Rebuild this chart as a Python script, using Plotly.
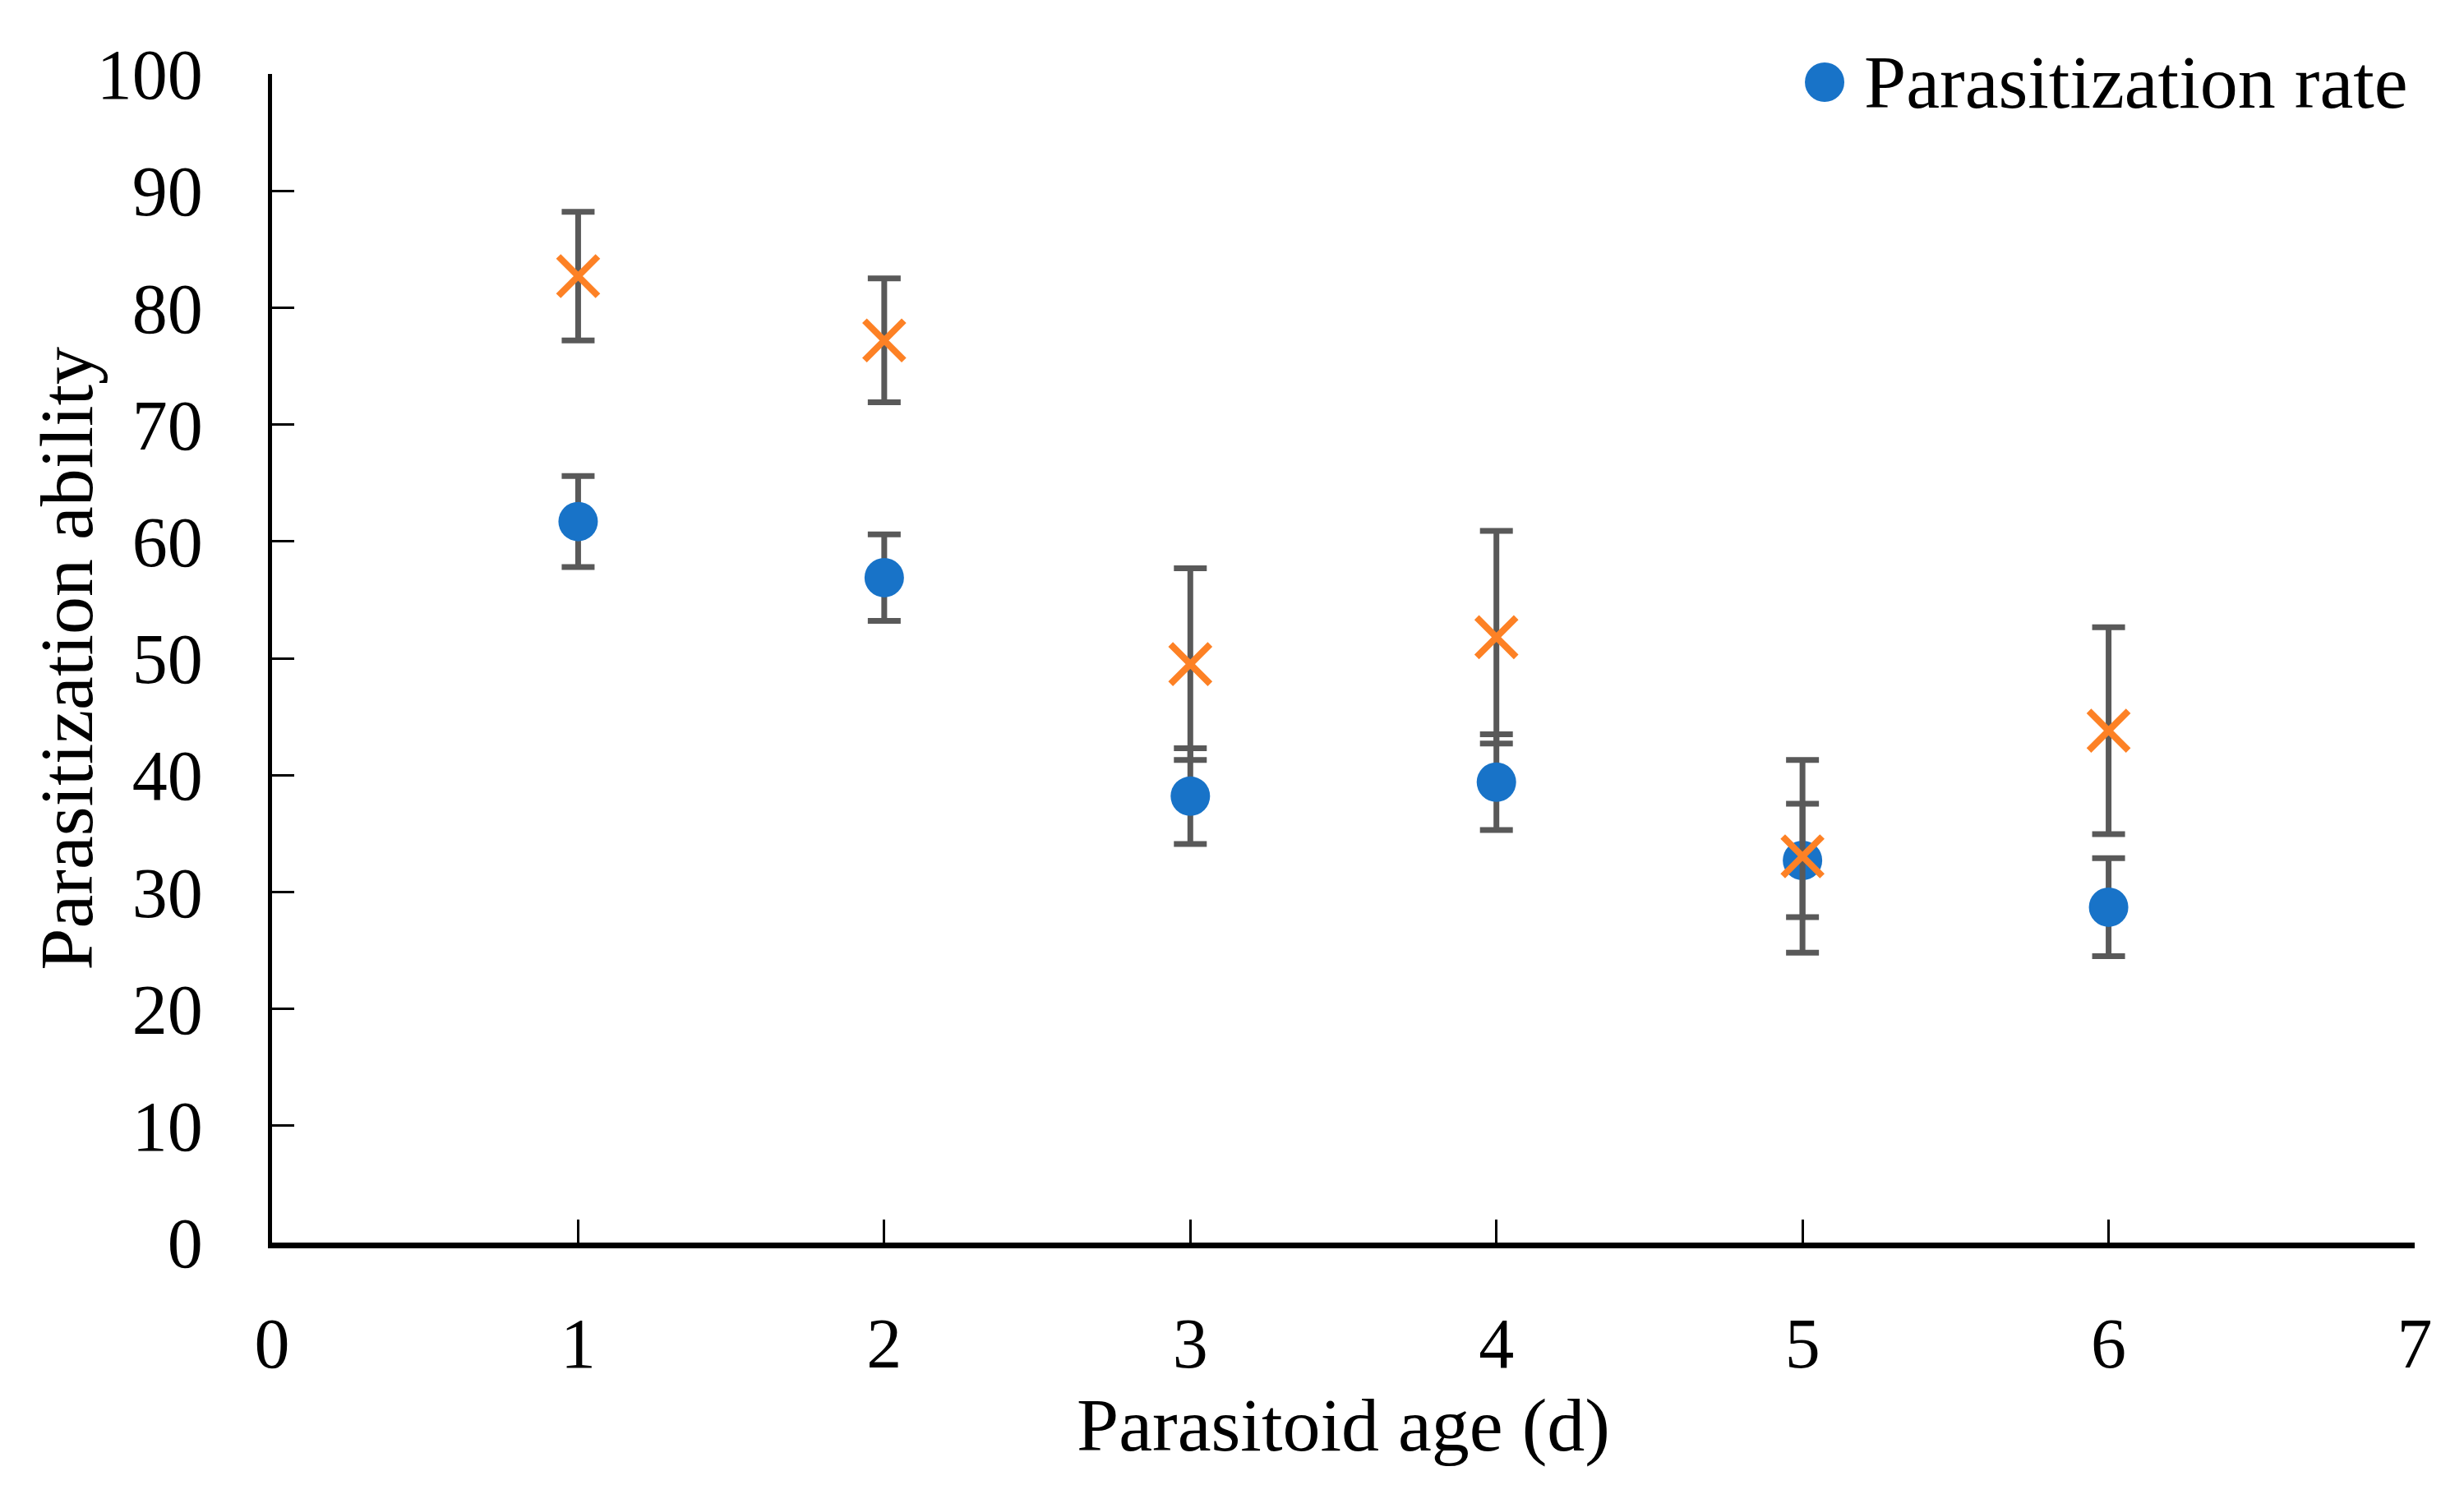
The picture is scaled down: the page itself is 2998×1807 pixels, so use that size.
import plotly.graph_objects as go

ages = [1, 2, 3, 4, 5, 6]
rate = [61.7, 56.9, 38.2, 39.4, 32.7, 28.7]
rate_err = [3.9, 3.7, 4.1, 4.1, 4.85, 4.2]
other = [82.7, 77.2, 49.5, 51.8, 33.05, 43.8]
other_err = [5.5, 5.3, 8.2, 9.1, 8.25, 8.85]

x_ticks = [0, 1, 2, 3, 4, 5, 6, 7]
y_ticks = [0, 10, 20, 30, 40, 50, 60, 70, 80, 90, 100]

legend_label = "Parasitization rate"
x_title = "Parasitoid age (d)"
y_title = "Parasitization ability"

FONT = "Liberation Serif"
ERR = "#595959"
BLUE = "#1873C8"
ORANGE = "#FD8125"

fig = go.Figure()
fig.add_trace(go.Scatter(
    x=ages, y=rate, mode="markers", name=legend_label,
    marker=dict(symbol="circle", size=48, color=BLUE),
    error_y=dict(type="data", array=rate_err, visible=True, color=ERR, thickness=7, width=20),
))
fig.add_trace(go.Scatter(
    x=ages, y=other, mode="markers", name="Parasitism",
    marker=dict(symbol="x-thin", size=48, color=ORANGE, line=dict(width=8, color=ORANGE)),
    error_y=dict(type="data", array=other_err, visible=True, color=ERR, thickness=7, width=20),
))

# Legend entry (only the blue series is shown in the reference legend)
fig.add_shape(type="circle", xref="paper", yref="paper",
              xsizemode="pixel", ysizemode="pixel",
              xanchor=0.7246, yanchor=0.993,
              x0=-24, x1=24, y0=-24, y1=24,
              fillcolor=BLUE, line=dict(width=0))
fig.add_annotation(xref="paper", yref="paper", x=0.7422, y=0.993,
                   xanchor="left", yanchor="middle", showarrow=False,
                   text=legend_label, font=dict(family=FONT, size=92, color="black"))

# Y axis title
fig.add_annotation(xref="paper", yref="paper", x=-0.096, y=0.5,
                   xanchor="center", yanchor="middle", showarrow=False, textangle=-90,
                   text=y_title, font=dict(family=FONT, size=92, color="black"))

fig.update_layout(
    width=2982, height=1791,
    margin=dict(l=323, r=52, t=82, b=287),
    paper_bgcolor="white", plot_bgcolor="white",
    font=dict(family=FONT, size=86, color="black"),
    showlegend=False,
    xaxis=dict(
        range=[0, 7], tickvals=x_ticks, ticktext=[str(v) for v in x_ticks],
        showgrid=False, zeroline=False, showline=True, linecolor="black", linewidth=7,
        ticks="inside", ticklen=28, tickwidth=3, tickcolor="black",
        ticklabelstandoff=42,
        title=dict(text=x_title, font=dict(family=FONT, size=92), standoff=20),
    ),
    yaxis=dict(
        range=[0, 100], tickvals=y_ticks, ticktext=[str(v) for v in y_ticks],
        showgrid=False, zeroline=False, showline=True, linecolor="black", linewidth=5,
        ticks="inside", ticklen=27, tickwidth=3, tickcolor="black",
        ticklabelstandoff=62,
    ),
)

fig.write_html("out.html")
